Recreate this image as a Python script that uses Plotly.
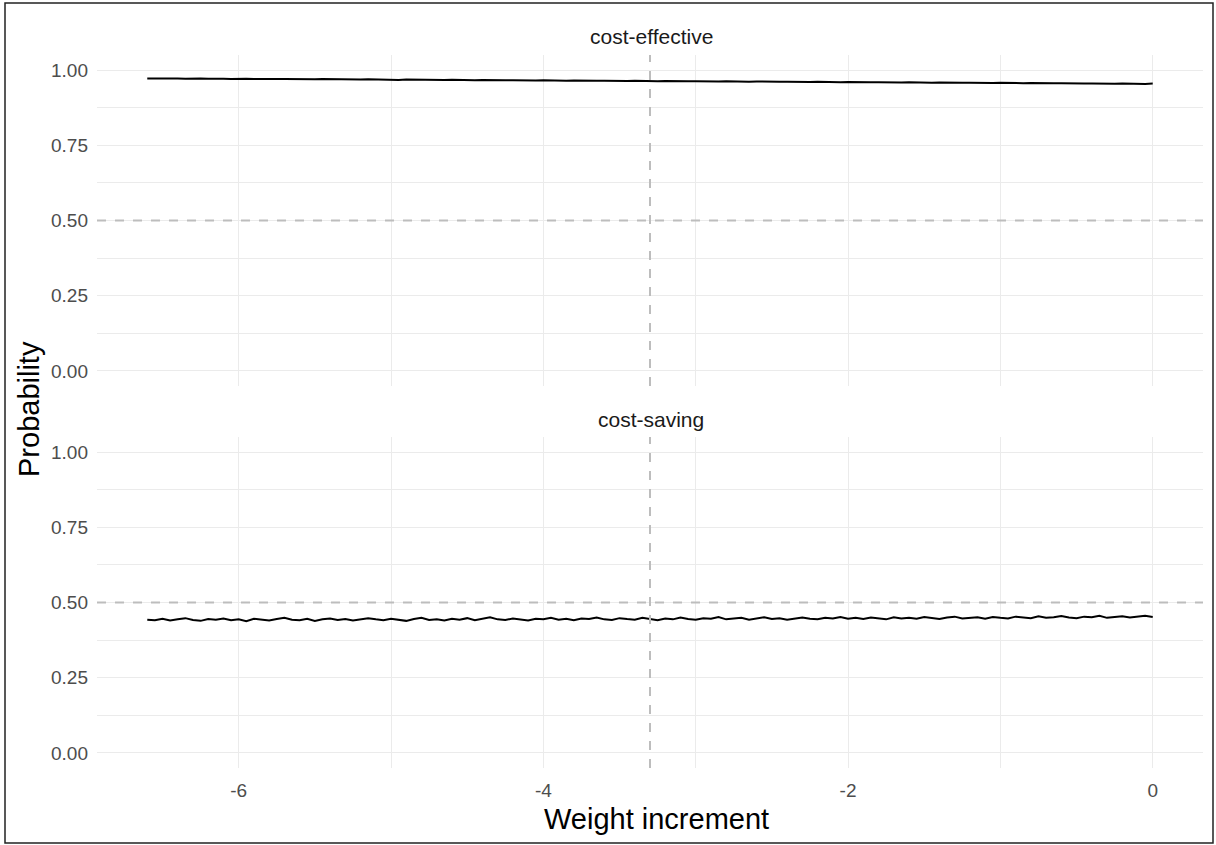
import plotly.graph_objects as go

# ---- data ----
weight_increment = [
    -6.60, -6.55, -6.50, -6.45, -6.40, -6.35, -6.30, -6.25, -6.20, -6.15,
    -6.10, -6.05, -6.00, -5.95, -5.90, -5.85, -5.80, -5.75, -5.70, -5.65,
    -5.60, -5.55, -5.50, -5.45, -5.40, -5.35, -5.30, -5.25, -5.20, -5.15,
    -5.10, -5.05, -5.00, -4.95, -4.90, -4.85, -4.80, -4.75, -4.70, -4.65,
    -4.60, -4.55, -4.50, -4.45, -4.40, -4.35, -4.30, -4.25, -4.20, -4.15,
    -4.10, -4.05, -4.00, -3.95, -3.90, -3.85, -3.80, -3.75, -3.70, -3.65,
    -3.60, -3.55, -3.50, -3.45, -3.40, -3.35, -3.30, -3.25, -3.20, -3.15,
    -3.10, -3.05, -3.00, -2.95, -2.90, -2.85, -2.80, -2.75, -2.70, -2.65,
    -2.60, -2.55, -2.50, -2.45, -2.40, -2.35, -2.30, -2.25, -2.20, -2.15,
    -2.10, -2.05, -2.00, -1.95, -1.90, -1.85, -1.80, -1.75, -1.70, -1.65,
    -1.60, -1.55, -1.50, -1.45, -1.40, -1.35, -1.30, -1.25, -1.20, -1.15,
    -1.10, -1.05, -1.00, -0.95, -0.90, -0.85, -0.80, -0.75, -0.70, -0.65,
    -0.60, -0.55, -0.50, -0.45, -0.40, -0.35, -0.30, -0.25, -0.20, -0.15,
    -0.10, -0.05, 0.00,
]

prob_cost_effective = [
    0.9718, 0.9722, 0.9715, 0.9724, 0.9719, 0.9712, 0.9721, 0.9716, 0.9709, 0.9717,
    0.9711, 0.9705, 0.9714, 0.9708, 0.9702, 0.9710, 0.9699, 0.9706, 0.9701, 0.9694,
    0.9703, 0.9697, 0.9690, 0.9699, 0.9693, 0.9686, 0.9695, 0.9689, 0.9683, 0.9691,
    0.9680, 0.9688, 0.9679, 0.9672, 0.9683, 0.9676, 0.9669, 0.9678, 0.9672, 0.9666,
    0.9674, 0.9665, 0.9670, 0.9662, 0.9668, 0.9659, 0.9665, 0.9657, 0.9663, 0.9654,
    0.9661, 0.9652, 0.9658, 0.9649, 0.9655, 0.9647, 0.9652, 0.9644, 0.9650, 0.9641,
    0.9647, 0.9639, 0.9645, 0.9636, 0.9642, 0.9634, 0.9640, 0.9631, 0.9637, 0.9628,
    0.9634, 0.9625, 0.9631, 0.9623, 0.9629, 0.9620, 0.9626, 0.9617, 0.9623, 0.9614,
    0.9620, 0.9612, 0.9618, 0.9609, 0.9615, 0.9606, 0.9612, 0.9603, 0.9609, 0.9600,
    0.9606, 0.9598, 0.9603, 0.9594, 0.9601, 0.9592, 0.9597, 0.9589, 0.9595, 0.9586,
    0.9592, 0.9583, 0.9589, 0.9581, 0.9586, 0.9578, 0.9583, 0.9575, 0.9581, 0.9572,
    0.9578, 0.9569, 0.9575, 0.9566, 0.9572, 0.9564, 0.9569, 0.9561, 0.9566, 0.9558,
    0.9563, 0.9555, 0.9560, 0.9552, 0.9557, 0.9549, 0.9554, 0.9546, 0.9551, 0.9543,
    0.9548, 0.9540, 0.9552,
]

prob_cost_saving = [
    0.443, 0.441, 0.446, 0.440, 0.444, 0.448, 0.442, 0.439, 0.445, 0.443,
    0.447, 0.441, 0.444, 0.438, 0.446, 0.442, 0.440, 0.445, 0.449, 0.443,
    0.441, 0.446, 0.439, 0.444, 0.447, 0.442, 0.445, 0.440, 0.443, 0.448,
    0.444, 0.441, 0.446, 0.443, 0.439, 0.445, 0.449, 0.442, 0.444, 0.440,
    0.446, 0.443, 0.448, 0.441, 0.445, 0.451, 0.444, 0.442, 0.447, 0.443,
    0.440, 0.446, 0.444, 0.449, 0.443, 0.446, 0.441, 0.447, 0.445, 0.450,
    0.444, 0.442, 0.448, 0.445, 0.443, 0.449, 0.446, 0.441, 0.447, 0.444,
    0.450, 0.445, 0.443, 0.448, 0.446, 0.452, 0.444, 0.447, 0.449, 0.443,
    0.446, 0.451, 0.445, 0.448, 0.443, 0.447, 0.450, 0.446, 0.444, 0.449,
    0.447, 0.452, 0.446, 0.449, 0.445, 0.450, 0.448, 0.444, 0.451, 0.447,
    0.449, 0.446, 0.452, 0.448, 0.445, 0.450, 0.453, 0.447, 0.449, 0.451,
    0.446, 0.452, 0.449, 0.447, 0.453, 0.450, 0.448, 0.454, 0.449, 0.451,
    0.455, 0.450, 0.448, 0.453, 0.451, 0.456, 0.449, 0.452, 0.454, 0.450,
    0.453, 0.456, 0.452,
]

panel_titles = ["cost-effective", "cost-saving"]
x_tick_vals = [-6, -4, -2, 0]
x_tick_text = ["-6", "-4", "-2", "0"]
y_tick_vals = [0.0, 0.25, 0.5, 0.75, 1.0]
y_tick_text = ["0.00", "0.25", "0.50", "0.75", "1.00"]
vline_x = -3.3
hline_y = 0.5

# ---- layout geometry ----
W, H = 1216, 845
ML, MR, MT, MB = 97, 13, 55, 77
PW, PH = W - ML - MR, H - MT - MB


def py(px):  # pixel y -> paper y
    return (H - MB - px) / PH


def pxx(px):  # pixel x -> paper x
    return (px - ML) / PW


FONT = "Liberation Sans, Arial, sans-serif"
TICKC = "#4d4d4d"
GRID = "#ebebeb"
REF = "#bdbdbd"
TICK_SIZE = 19
STRIP_SIZE = 21
TITLE_SIZE = 29

fig = go.Figure()
fig.add_trace(go.Scatter(x=weight_increment, y=prob_cost_effective, mode="lines",
                         line=dict(color="black", width=2), xaxis="x2", yaxis="y2",
                         showlegend=False))
fig.add_trace(go.Scatter(x=weight_increment, y=prob_cost_saving, mode="lines",
                         line=dict(color="black", width=2), xaxis="x", yaxis="y",
                         showlegend=False))

xrange = [-6.93, 0.33]
yrange = [-0.05, 1.05]

common_x = dict(range=xrange, showgrid=True, gridcolor=GRID, gridwidth=1.1,
                zeroline=False, showline=False, ticks="",
                tickvals=x_tick_vals, ticktext=x_tick_text,
                tickfont=dict(family=FONT, size=TICK_SIZE, color=TICKC),
                minor=dict(tickvals=[-7, -5, -3, -1], showgrid=True,
                           gridcolor=GRID, gridwidth=0.6))
common_y = dict(range=yrange, showgrid=True, gridcolor=GRID, gridwidth=1.1,
                zeroline=False, showline=False, ticks="",
                tickvals=y_tick_vals, ticktext=y_tick_text,
                tickfont=dict(family=FONT, size=TICK_SIZE, color=TICKC),
                minor=dict(tickvals=[0.125, 0.375, 0.625, 0.875], showgrid=True,
                           gridcolor=GRID, gridwidth=0.6),
                ticklabelstandoff=8)

top_lo = py(386)
bot_hi = py(437)

fig.update_layout(
    width=W, height=H,
    margin=dict(l=ML, r=MR, t=MT, b=MB),
    paper_bgcolor="white", plot_bgcolor="white",
    font=dict(family=FONT),
    xaxis=dict(**common_x, domain=[0, 1], anchor="y", ticklabelstandoff=9),
    yaxis=dict(**common_y, domain=[0, bot_hi], anchor="x"),
    xaxis2=dict(**common_x, domain=[0, 1], anchor="y2", showticklabels=False, matches="x"),
    yaxis2=dict(**common_y, domain=[top_lo, 1], anchor="x2"),
)

# reference lines
for xa, ya in (("x", "y"), ("x2", "y2")):
    fig.add_shape(type="line", xref=xa, yref=f"{ya} domain", x0=vline_x, x1=vline_x,
                  y0=0, y1=1, line=dict(color=REF, width=2, dash="dash"), layer="above")
    fig.add_shape(type="line", xref=f"{xa} domain", yref=ya, x0=0, x1=1,
                  y0=hline_y, y1=hline_y, line=dict(color=REF, width=2, dash="dash"),
                  layer="above")

# strip titles
for title, ypix in zip(panel_titles, (37, 419)):
    fig.add_annotation(text=title, xref="paper", yref="paper", x=pxx(651), y=py(ypix),
                       xanchor="center", yanchor="middle", showarrow=False,
                       font=dict(family=FONT, size=STRIP_SIZE, color="#1a1a1a"))

# axis titles
fig.add_annotation(text="Probability", xref="paper", yref="paper", x=pxx(29), y=py(409),
                   xanchor="center", yanchor="middle", showarrow=False, textangle=-90,
                   font=dict(family=FONT, size=TITLE_SIZE, color="black"))
fig.add_annotation(text="Weight increment", xref="paper", yref="paper", x=pxx(656),
                   y=py(819), xanchor="center", yanchor="middle", showarrow=False,
                   font=dict(family=FONT, size=TITLE_SIZE, color="black"))

# outer frame
fig.add_shape(type="rect", xref="paper", yref="paper",
              x0=pxx(5), x1=pxx(1213), y0=py(843), y1=py(3),
              line=dict(color="#222222", width=1.5), layer="above")

fig.write_html("out.html")
